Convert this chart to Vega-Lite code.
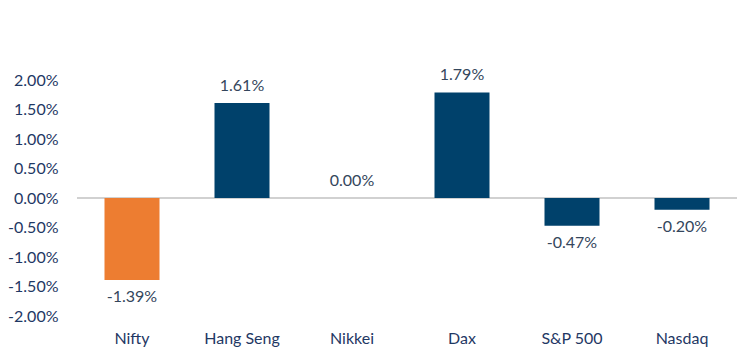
{
  "$schema": "https://vega.github.io/schema/vega-lite/v6.json",
  "width": 660,
  "height": 236,
  "autosize": {"type": "none"},
  "padding": {"left": 77, "top": 80, "right": 19, "bottom": 39},
  "background": "white",
  "config": {
    "view": {"stroke": null},
    "font": "Lato",
    "locale": {"number": {"decimal": ".", "thousands": ",", "grouping": [3], "currency": ["$", ""], "minus": "-"}}
  },
  "data": {
    "values": [
      {"index": "Nifty", "change": -0.0139, "group": "India"},
      {"index": "Hang Seng", "change": 0.0161, "group": "Global"},
      {"index": "Nikkei", "change": 0.0, "group": "Global"},
      {"index": "Dax", "change": 0.0179, "group": "Global"},
      {"index": "S&P 500", "change": -0.0047, "group": "Global"},
      {"index": "Nasdaq", "change": -0.002, "group": "Global"}
    ]
  },
  "encoding": {
    "x": {
      "field": "index",
      "type": "nominal",
      "sort": null,
      "scale": {"paddingInner": 0.5, "paddingOuter": 0.25},
      "axis": {
        "title": null,
        "labelAngle": 0,
        "domain": false,
        "ticks": false,
        "labelPadding": 14,
        "labelFontSize": 16,
        "labelColor": "#1F3864",
        "labelFont": "Lato"
      }
    },
    "y": {
      "field": "change",
      "type": "quantitative",
      "scale": {"domain": [-0.02, 0.02], "nice": false, "zero": true},
      "axis": {
        "title": null,
        "format": ".2%",
        "values": [-0.02, -0.015, -0.01, -0.005, 0, 0.005, 0.01, 0.015, 0.02],
        "domain": false,
        "ticks": false,
        "grid": false,
        "labelPadding": 19,
        "labelFontSize": 16,
        "labelColor": "#1F3864",
        "labelFont": "Lato"
      }
    }
  },
  "layer": [
    {
      "mark": {"type": "rule", "color": "#D0D0D0", "strokeWidth": 1.5},
      "encoding": {"y": {"datum": 0}, "x": {"value": 0}, "x2": {"value": 660}}
    },
    {
      "mark": {"type": "bar"},
      "encoding": {
        "y2": {"datum": 0},
        "color": {
          "field": "group",
          "type": "nominal",
          "scale": {"domain": ["India", "Global"], "range": ["#ED7D31", "#00416B"]},
          "legend": null
        }
      }
    },
    {
      "transform": [{"filter": "datum.change >= 0"}],
      "mark": {"type": "text", "baseline": "bottom", "dy": -9, "fontSize": 16, "color": "#34465C"},
      "encoding": {"text": {"field": "change", "type": "quantitative", "format": ".2%"}}
    },
    {
      "transform": [{"filter": "datum.change < 0"}],
      "mark": {"type": "text", "baseline": "top", "dy": 9, "fontSize": 16, "color": "#34465C"},
      "encoding": {"text": {"field": "change", "type": "quantitative", "format": ".2%"}}
    }
  ]
}
